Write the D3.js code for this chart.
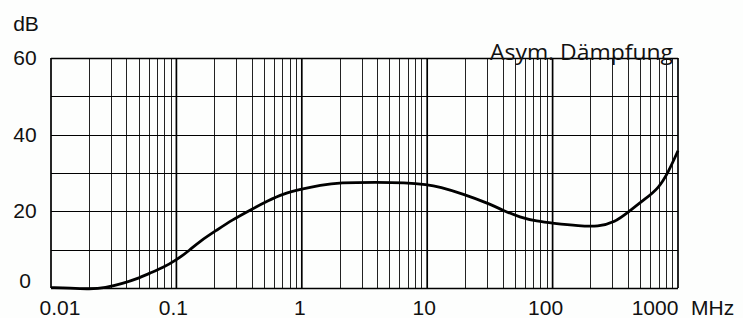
<!DOCTYPE html>
<html lang="de">
<head>
<meta charset="UTF-8">
<title>Asym. Dämpfung</title>
<script src="https://d3js.org/d3.v7.min.js"></script>
<style>
    body { margin: 0; background: #fdfefd; }
    svg { display: block; }
    .tick-label { font-family: "Liberation Sans", Arial, sans-serif; font-size: 21px; fill: #111; }
    .title { font-family: "Open Sans", sans-serif; font-size: 21px; fill: #111; }
</style>
</head>
<body>
<div id="chart"></div>
<script>
    // curve: frequency in MHz, attenuation in dB
    const freq = [0.01, 0.0142, 0.0205, 0.027, 0.0375, 0.0485, 0.0617, 0.078, 0.1, 0.128, 0.154, 0.21, 0.28, 0.386,
                  0.54, 0.71, 1.0, 1.4, 2.0, 4.0, 6.6, 10, 12.5, 19.5, 30, 40, 55, 75, 100, 164, 230, 315, 400, 550, 700, 840, 1000];
    const dB = [0.1, 0.0, -0.3, 0.0, 1.2, 2.4, 3.9, 5.3, 7.3, 9.9, 12.2, 15.1, 17.8, 20.3,
                22.8, 24.6, 25.8, 26.8, 27.5, 27.6, 27.5, 27.0, 26.4, 24.5, 22.2, 20.3, 18.4, 17.4, 16.9, 16.2, 16.0, 17.2, 19.8, 23.3, 26.0, 30.3, 35.8];

    const xTicks = [0.01, 0.1, 1, 10, 100, 1000];
    const xTickLabels = ["0.01", "0.1", "1", "10", "100", "1000"];
    const yTicks = [0, 20, 40, 60];
    const yGrid = [0, 10, 20, 30, 40, 50, 60];

    const width = 743, height = 318;
    const pLeft = 51, pRight = 678, pTop = 58, pBottom = 288;

    const svg = d3.select("#chart").append("svg")
        .attr("width", width)
        .attr("height", height);

    const x = d3.scaleLog().domain([0.01, 1000]).range([pLeft, pRight]);
    const y = d3.scaleLinear().domain([0, 60]).range([pBottom, pTop]);

    // minor vertical lines 2..9 per decade
    const minor = [];
    xTicks.slice(0, -1).forEach(d => {
        for (let k = 2; k <= 9; k++) minor.push(d * k);
    });

    svg.append("g").selectAll("line")
        .data(minor)
        .enter().append("line")
        .attr("x1", d => Math.round(x(d)) + 0.5).attr("x2", d => Math.round(x(d)) + 0.5)
        .attr("y1", pTop).attr("y2", pBottom)
        .attr("stroke", "#222").attr("stroke-width", 1);

    svg.append("g").selectAll("line")
        .data(xTicks)
        .enter().append("line")
        .attr("x1", d => x(d)).attr("x2", d => x(d))
        .attr("y1", pTop).attr("y2", pBottom)
        .attr("stroke", "#000").attr("stroke-width", 1.7);

    svg.append("g").selectAll("line")
        .data(yGrid)
        .enter().append("line")
        .attr("x1", pLeft).attr("x2", pRight)
        .attr("y1", d => Math.round(y(d)) + 0.5).attr("y2", d => Math.round(y(d)) + 0.5)
        .attr("stroke", "#000").attr("stroke-width", d => (d === 0 || d === 60) ? 1.6 : 1);

    // curve
    const line = d3.line()
        .x((d, i) => x(freq[i]))
        .y(d => y(d))
        .curve(d3.curveBasis);

    svg.append("path")
        .datum(dB)
        .attr("d", line)
        .attr("fill", "none")
        .attr("stroke", "#000")
        .attr("stroke-width", 2.8)
        .attr("stroke-linejoin", "round");

    // x labels (offsets follow the original placement)
    const xOffsets = [9, -3, -2, -3, -7, -23];
    svg.append("g").selectAll("text")
        .data(xTicks)
        .enter().append("text")
        .attr("class", "tick-label")
        .attr("x", (d, i) => x(d) + xOffsets[i])
        .attr("y", 315)
        .attr("text-anchor", "middle")
        .text((d, i) => xTickLabels[i]);

    svg.append("text")
        .attr("class", "tick-label")
        .attr("x", 691)
        .attr("y", 315)
        .text("MHz");

    // y labels
    svg.append("g").selectAll("text")
        .data(yTicks)
        .enter().append("text")
        .attr("class", "tick-label")
        .attr("x", 25)
        .attr("y", d => y(d) + (d === 0 ? 0 : 7))
        .attr("text-anchor", "middle")
        .text(d => d);

    svg.append("text")
        .attr("class", "tick-label")
        .attr("x", 26)
        .attr("y", 31)
        .attr("text-anchor", "middle")
        .text("dB");

    svg.append("text")
        .attr("class", "title")
        .attr("x", 490)
        .attr("y", 60)
        .attr("textLength", 183)
        .attr("lengthAdjust", "spacingAndGlyphs")
        .text("Asym. Dämpfung");
</script>
</body>
</html>
